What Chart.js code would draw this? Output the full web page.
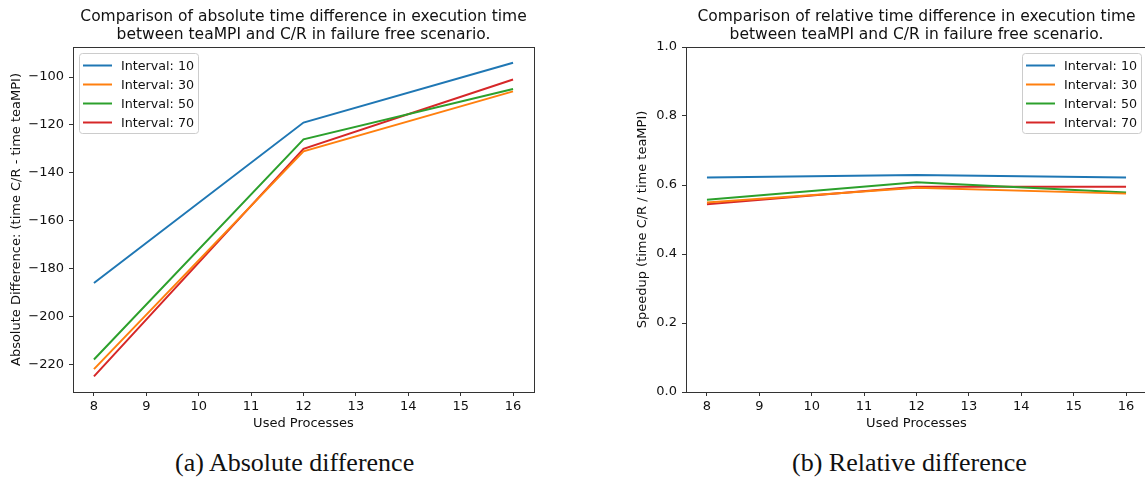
<!DOCTYPE html>
<html>
<head>
<meta charset="utf-8">
<script src="https://cdn.jsdelivr.net/npm/chart.js@4/dist/chart.umd.min.js"></script>
<style>
  html, body { margin: 0; padding: 0; background: #fff; width: 1145px; height: 477px; overflow: hidden; position: relative; }
  .box { position: absolute; top: 0; }
  .caption { position: absolute; top: 448px; font-family: "Liberation Serif", "DejaVu Serif", serif; font-size: 26px; color: #111; white-space: nowrap; }
</style>
</head>
<body>
<div class="box" style="left:0px;"><canvas id="absChart" width="560" height="440"></canvas></div>
<div class="box" style="left:580px;"><canvas id="relChart" width="600" height="440"></canvas></div>
<div class="caption" style="left:175px;">(a) Absolute difference</div>
<div class="caption" style="left:792px;">(b) Relative difference</div>

<script>
// data
const processes = [8, 12, 16];
const seriesNames = ["Interval: 10", "Interval: 30", "Interval: 50", "Interval: 70"];
const seriesColors = ["#1f77b4", "#ff7f0e", "#2ca02c", "#d62728"];

const absInterval10 = [-186, -119, -94];
const absInterval30 = [-222, -131, -106];
const absInterval50 = [-218, -126, -105];
const absInterval70 = [-225, -130, -101];

const relInterval10 = [0.622, 0.629, 0.622];
const relInterval30 = [0.549, 0.592, 0.575];
const relInterval50 = [0.557, 0.608, 0.578];
const relInterval70 = [0.544, 0.595, 0.595];

const xTicks = [8, 9, 10, 11, 12, 13, 14, 15, 16];
const absTicks = [-220, -200, -180, -160, -140, -120, -100];
const relTicks = [0.0, 0.2, 0.4, 0.6, 0.8, 1.0];

const absTitle = ["Comparison of absolute time difference in execution time", "between teaMPI and C/R in failure free scenario."];
const relTitle = ["Comparison of relative time difference in execution time", "between teaMPI and C/R in failure free scenario."];

const FONT = "'DejaVu Sans', sans-serif";
const AXIS = "#333";

function toPoints(ys) {
  return ys.map((y, i) => ({ x: processes[i], y: y }));
}

function makeDatasets(list) {
  return list.map((ys, i) => ({
    label: seriesNames[i],
    data: toPoints(ys),
    borderColor: seriesColors[i],
    backgroundColor: seriesColors[i],
    borderWidth: 2,
    pointRadius: 0,
    tension: 0,
    fill: false,
  }));
}

// frame, title and the in-plot legend, matplotlib style
const mplDecor = {
  id: "mplDecor",
  afterDatasetsDraw(chart, args, opts) {
    const ctx = chart.ctx;
    const a = chart.chartArea;
    ctx.save();
    ctx.strokeStyle = AXIS;
    ctx.lineWidth = 1;
    ctx.strokeRect(Math.round(a.left) + 0.5, Math.round(a.top) + 0.5,
      Math.round(a.right - a.left), Math.round(a.bottom - a.top));

    // title
    ctx.fillStyle = "#111";
    ctx.font = "15.5px " + FONT;
    ctx.textAlign = "center";
    ctx.textBaseline = "middle";
    const cx = (a.left + a.right) / 2;
    opts.title.forEach((line, i) => ctx.fillText(line, cx, 17 + i * 18));

    // legend
    const w = 119, h = 80, rowH = 19;
    const lx = opts.legendLeft, ly = 53.5;
    ctx.fillStyle = "rgba(255,255,255,0.8)";
    ctx.strokeStyle = "#cccccc";
    ctx.beginPath();
    ctx.roundRect(lx + 0.5, ly, w, h, 3);
    ctx.fill();
    ctx.stroke();
    ctx.font = "12.7px " + FONT;
    ctx.textAlign = "left";
    chart.data.datasets.forEach((ds, i) => {
      const yy = ly + 12 + i * rowH;
      ctx.strokeStyle = ds.borderColor;
      ctx.lineWidth = 2;
      ctx.beginPath();
      ctx.moveTo(lx + 4, yy);
      ctx.lineTo(lx + 33, yy);
      ctx.stroke();
      ctx.fillStyle = "#111";
      ctx.fillText(ds.label, lx + 42, yy + 1);
    });
    ctx.restore();
  },
};

function fmt(v, digits) {
  const s = digits ? v.toFixed(digits) : String(v);
  return s.replace("-", "\u2212");
}

function makeOptions(cfg) {
  const tickFont = { family: FONT, size: 13 };
  return {
    responsive: false,
    animation: false,
    layout: { padding: { top: 47, right: cfg.padRight, bottom: 0, left: 0 } },
    plugins: {
      legend: { display: false },
      tooltip: { enabled: false },
      mplDecor: { title: cfg.title, legendLeft: cfg.legendLeft },
    },
    scales: {
      x: {
        type: "linear",
        min: 7.6,
        max: 16.4,
        afterBuildTicks: (s) => { s.ticks = xTicks.map((v) => ({ value: v })); },
        afterFit: (s) => { s.height = 48; },
        ticks: { color: "#111", font: tickFont, padding: 3, maxRotation: 0, callback: (v) => fmt(v) },
        grid: { drawOnChartArea: false, drawTicks: true, tickLength: 4, tickColor: AXIS },
        border: { display: false },
        title: { display: true, text: "Used Processes", color: "#111", font: tickFont, padding: { top: 0, bottom: 9 } },
      },
      y: {
        type: "linear",
        min: cfg.yMin,
        max: cfg.yMax,
        afterBuildTicks: (s) => { s.ticks = cfg.yTicks.map((v) => ({ value: v })); },
        afterFit: (s) => { s.width = cfg.yWidth; },
        ticks: { color: "#111", font: tickFont, padding: 5, callback: (v) => fmt(v, cfg.digits) },
        grid: { drawOnChartArea: false, drawTicks: true, tickLength: 4, tickColor: AXIS },
        border: { display: false },
        title: { display: true, text: cfg.yLabel, color: "#111", font: tickFont, padding: { top: cfg.yTitlePad, bottom: 0 } },
      },
    },
  };
}

new Chart(document.getElementById("absChart"), {
  type: "line",
  data: { datasets: makeDatasets([absInterval10, absInterval30, absInterval50, absInterval70]) },
  options: makeOptions({
    title: absTitle, legendLeft: 79, padRight: 26,
    yMin: -231.55, yMax: -87.45, yTicks: absTicks, yWidth: 73, digits: 0,
    yLabel: "Absolute Difference: (time C/R - time teaMPI)", yTitlePad: 9,
  }),
  plugins: [mplDecor],
});

new Chart(document.getElementById("relChart"), {
  type: "line",
  data: { datasets: makeDatasets([relInterval10, relInterval30, relInterval50, relInterval70]) },
  options: makeOptions({
    title: relTitle, legendLeft: 442, padRight: 33,
    yMin: 0, yMax: 1, yTicks: relTicks, yWidth: 106, digits: 1,
    yLabel: "Speedup (time C/R / time teaMPI)", yTitlePad: 55,
  }),
  plugins: [mplDecor],
});
</script>
</body>
</html>
